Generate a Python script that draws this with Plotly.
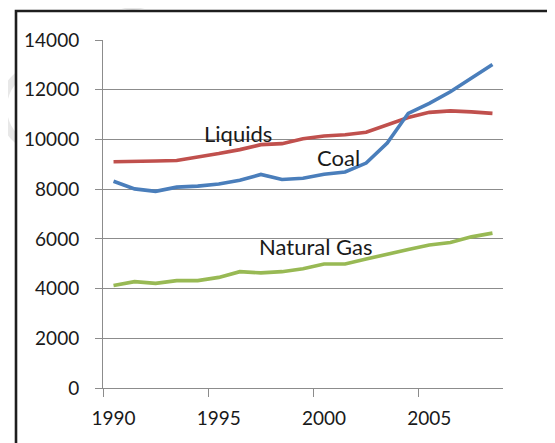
import plotly.graph_objects as go

years = list(range(1990, 2009))
liquids = [9100, 9100, 9130, 9150, 9280, 9430, 9590, 9790, 9830, 10030,
           10140, 10190, 10290, 10590, 10880, 11090, 11150, 11110, 11050]
coal = [8320, 8010, 7910, 8080, 8120, 8210, 8360, 8590, 8390, 8440,
        8600, 8690, 9050, 9850, 11050, 11450, 11920, 12480, 13010]
natural_gas = [4120, 4280, 4210, 4320, 4320, 4450, 4680, 4630, 4680, 4800,
               4990, 4990, 5190, 5390, 5570, 5750, 5850, 6080, 6230]
x_tick_labels = ["1990", "1995", "2000", "2005"]
y_ticks = [0, 2000, 4000, 6000, 8000, 10000, 12000, 14000]

# page has an 8px body margin; figure is sized to fill the rest of the window
OFF = 8
W, H = 555 - OFF, 443 - OFF
ML, MR, MT, MB = 103 - OFF, 52, 40 - OFF, 55
PW, PH = W - ML - MR, H - MT - MB

def px(x):
    """reference-screen x pixel -> paper coordinate"""
    return (x - OFF - ML) / PW

def py(y):
    """reference-screen y pixel -> paper coordinate"""
    return (H - MB - (y - OFF)) / PH

FONT = "Lato"
TXT = "#1a1a1a"

fig = go.Figure()
fig.add_trace(go.Scatter(x=years, y=liquids, mode="lines", name="Liquids",
                         line=dict(color="#C0504D", width=3.6)))
fig.add_trace(go.Scatter(x=years, y=coal, mode="lines", name="Coal",
                         line=dict(color="#4A7EBB", width=3.6)))
fig.add_trace(go.Scatter(x=years, y=natural_gas, mode="lines", name="Natural Gas",
                         line=dict(color="#98B954", width=3.6)))

shapes = [
    # faint watermark fragments outside the frame
    dict(type="circle", xref="paper", yref="paper",
         x0=px(3), x1=px(87), y0=py(66), y1=py(150),
         line=dict(color="#e8e8e8", width=8), layer="below"),
    dict(type="circle", xref="paper", yref="paper",
         x0=px(104), x1=px(162), y0=py(-52), y1=py(6),
         line=dict(color="#e8e8e8", width=8), layer="below"),
    # chart frame
    dict(type="rect", xref="paper", yref="paper",
         x0=px(16), x1=px(600), y0=py(11), y1=py(500),
         line=dict(color="#1e1e1e", width=2.6), fillcolor="white", layer="below"),
]

annotations = [
    dict(x=1995.9, y=10250, text="Liquids"),
    dict(x=2000.7, y=9280, text="Coal"),
    dict(x=1999.6, y=5700, text="Natural Gas"),
]
for a in annotations:
    a.update(xref="x", yref="y", showarrow=False,
             font=dict(family=FONT, size=22, color=TXT))

fig.update_layout(
    width=W, height=H,
    margin=dict(l=ML, r=MR, t=MT, b=MB, pad=0),
    paper_bgcolor="white", plot_bgcolor="rgba(0,0,0,0)",
    showlegend=False,
    shapes=shapes, annotations=annotations,
    font=dict(family=FONT, size=19, color=TXT),
)
fig.update_xaxes(
    range=[1989.5, 2008.5],
    tickmode="array",
    tickvals=[int(t) for t in x_tick_labels],
    ticktext=x_tick_labels,
    ticks="", showgrid=False, zeroline=False,
    showline=True, linecolor="#8c8c8c", linewidth=1,
    ticklabelstandoff=13,
    minor=dict(tickvals=[int(t) - 0.5 for t in x_tick_labels],
               ticks="outside", ticklen=8, tickcolor="#8c8c8c", tickwidth=1,
               showgrid=False),
)
fig.update_yaxes(
    range=[0, 14000],
    tickmode="array", tickvals=y_ticks,
    ticktext=[str(v) for v in y_ticks],
    ticks="outside", ticklen=7, tickcolor="#8c8c8c", tickwidth=1,
    showgrid=True, gridcolor="#8c8c8c", gridwidth=1,
    zeroline=False, showline=True, linecolor="#8c8c8c", linewidth=1,
    ticklabelstandoff=12,
)

fig.write_html("out.html")
